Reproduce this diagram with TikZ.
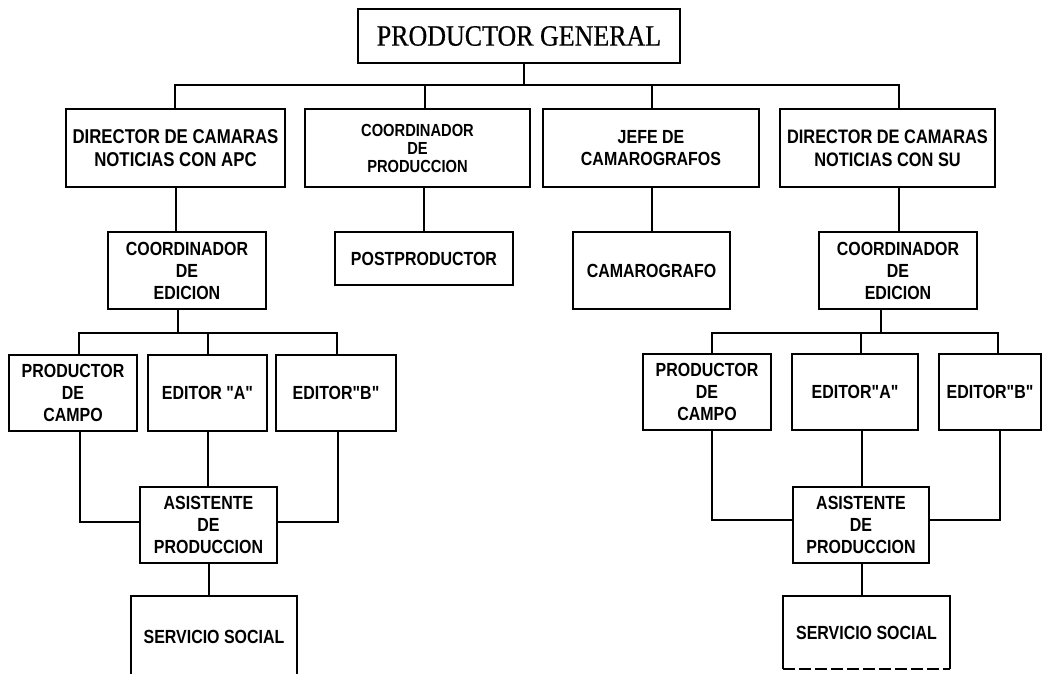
\documentclass[tikz,border=0pt]{standalone}
\usepackage{fontspec}
\newfontfamily\sansf[FakeStretch=0.84]{Liberation Sans}
\newfontfamily\serf[FakeStretch=0.88,FakeBold=0.6]{Liberation Serif}
\newcommand\bxfont{\sansf\bfseries\fontsize{19}{22}\selectfont}
\tikzset{
 orgbox/.style={draw, line width=1.8pt, inner sep=0pt, align=center, font=\bxfont},
 conn/.style={line width=1.8pt},
}
\begin{document}
\begin{tikzpicture}[x=1pt,y=-1pt]
\useasboundingbox (0,0) rectangle (1043,673);
\fill[white] (0,0) rectangle (1043,673);
\clip (0,0) rectangle (1043,673);
% top
\node[orgbox, minimum width=322, minimum height=54, font=\serf\fontsize{29.5}{32}\selectfont] (pg) at (519,36) {PRODUCTOR GENERAL};
% row 1
\node[orgbox, minimum width=219, minimum height=78, font=\sansf\bfseries\fontsize{20}{23}\selectfont] (d1) at (175.5,148) {DIRECTOR DE CAMARAS\\NOTICIAS CON APC};
\node[orgbox, minimum width=225, minimum height=78, font=\sansf\bfseries\fontsize{17.5}{18}\selectfont] (cp) at (417.5,148) {COORDINADOR\\DE\\PRODUCCION};
\node[orgbox, minimum width=216, minimum height=78] (jc) at (651,148) {JEFE DE\\CAMAROGRAFOS};
\node[orgbox, minimum width=215, minimum height=78, font=\sansf\bfseries\fontsize{19.5}{23}\selectfont] (d2) at (887.5,148) {DIRECTOR DE CAMARAS\\NOTICIAS CON SU};
% row 2
\node[orgbox, minimum width=158, minimum height=77] (ceL) at (187,270.5) {COORDINADOR\\DE\\EDICION};
\node[orgbox, minimum width=178, minimum height=53] (post) at (424,258.5) {POSTPRODUCTOR};
\node[orgbox, minimum width=157, minimum height=77] (cam) at (651.5,270.5) {CAMAROGRAFO};
\node[orgbox, minimum width=158, minimum height=77] (ceR) at (898,270.5) {COORDINADOR\\DE\\EDICION};
% row 3
\node[orgbox, minimum width=128, minimum height=76] (pcL) at (73,393) {PRODUCTOR\\DE\\CAMPO};
\node[orgbox, minimum width=119, minimum height=76] (eaL) at (207.5,393) {EDITOR "A"};
\node[orgbox, minimum width=120, minimum height=76] (ebL) at (336,393) {EDITOR"B"};
\node[orgbox, minimum width=128, minimum height=76] (pcR) at (707,392) {PRODUCTOR\\DE\\CAMPO};
\node[orgbox, minimum width=126, minimum height=76] (eaR) at (855,392) {EDITOR"A"};
\node[orgbox, minimum width=102, minimum height=76] (ebR) at (990,392) {EDITOR"B"};
% row 4
\node[orgbox, minimum width=137, minimum height=76] (asL) at (208.5,525) {ASISTENTE\\DE\\PRODUCCION};
\node[orgbox, minimum width=136, minimum height=76] (asR) at (861,525) {ASISTENTE\\DE\\PRODUCCION};
% row 5
\node[orgbox, minimum width=166, minimum height=82] (svL) at (214,637) {SERVICIO SOCIAL};
\node[orgbox, draw=none, minimum width=165, minimum height=71] (svR) at (866.5,632.5) {\raisebox{-6pt}{SERVICIO SOCIAL}};
\draw[conn] (svR.south west) -- (svR.north west) -- (svR.north east) -- (svR.south east);
\draw[conn, dash pattern=on 12pt off 4pt] (svR.south west) -- (svR.south east);
% coordinates
\coordinate (t0) at (524,85);
\coordinate (b1) at (175,85);
\coordinate (b2) at (425,85);
\coordinate (b3) at (652,85);
\coordinate (b4) at (899,85);
\coordinate (v1) at (176,0);
\coordinate (v2) at (424,0);
\coordinate (v3) at (652,0);
\coordinate (v4) at (899,0);
\coordinate (lb0) at (178,333);
\coordinate (lb1) at (79,333);
\coordinate (lb2) at (208,333);
\coordinate (lb3) at (337,333);
\coordinate (rb0) at (881,333);
\coordinate (rb1) at (712,333);
\coordinate (rb2) at (861,333);
\coordinate (rb3) at (998,333);
\coordinate (lj1) at (80,522);
\coordinate (lj3) at (338,522);
\coordinate (la) at (208,0);
\coordinate (la2) at (209,0);
\coordinate (rj1) at (712,520);
\coordinate (rj3) at (1000,520);
\coordinate (ra) at (862,0);
% connectors
\draw[conn] (t0 |- pg.south) -- (t0);
\draw[conn] (b1 |- d1.north) -- (b1) -- (b4) -- (b4 |- d2.north);
\draw[conn] (b2) -- (b2 |- cp.north);
\draw[conn] (b3) -- (b3 |- jc.north);
\draw[conn] (v1 |- d1.south) -- (v1 |- ceL.north);
\draw[conn] (v2 |- cp.south) -- (v2 |- post.north);
\draw[conn] (v3 |- jc.south) -- (v3 |- cam.north);
\draw[conn] (v4 |- d2.south) -- (v4 |- ceR.north);
\draw[conn] (lb0 |- ceL.south) -- (lb0);
\draw[conn] (lb1 |- pcL.north) -- (lb1) -- (lb3) -- (lb3 |- ebL.north);
\draw[conn] (lb2) -- (lb2 |- eaL.north);
\draw[conn] (rb0 |- ceR.south) -- (rb0);
\draw[conn] (rb1 |- pcR.north) -- (rb1) -- (rb3) -- (rb3 |- ebR.north);
\draw[conn] (rb2) -- (rb2 |- eaR.north);
\draw[conn] (lj1 |- pcL.south) -- (lj1) -- (lj1 -| asL.west);
\draw[conn] (la |- eaL.south) -- (la |- asL.north);
\draw[conn] (lj3 |- ebL.south) -- (lj3) -- (lj3 -| asL.east);
\draw[conn] (la2 |- asL.south) -- (la2 |- svL.north);
\draw[conn] (rj1 |- pcR.south) -- (rj1) -- (rj1 -| asR.west);
\draw[conn] (ra |- eaR.south) -- (ra |- asR.north);
\draw[conn] (rj3 |- ebR.south) -- (rj3) -- (rj3 -| asR.east);
\draw[conn] (ra |- asR.south) -- (ra |- svR.north);
\end{tikzpicture}
\end{document}
